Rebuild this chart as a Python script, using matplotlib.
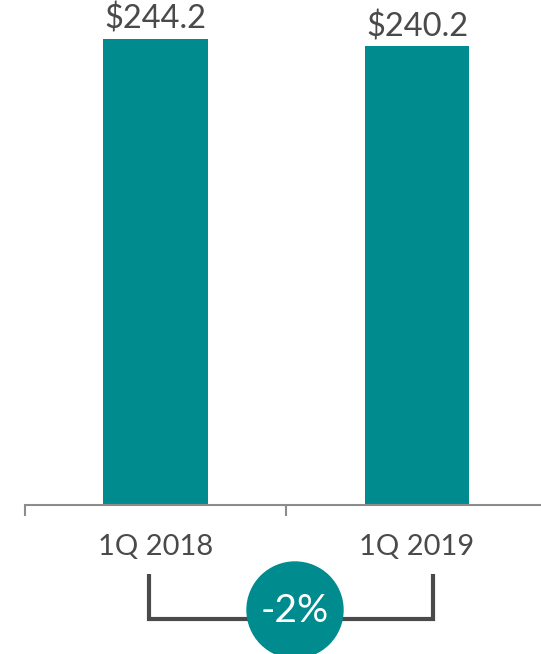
import matplotlib.pyplot as plt
from matplotlib.patches import Circle

categories = ["1Q 2018", "1Q 2019"]
values = [244.2, 240.2]

teal = "#008B8F"
dark = "#4A4A4A"
grey = "#8C8C8C"

plt.rcParams['font.family'] = ['Lato', 'DejaVu Sans']

fig = plt.figure(figsize=(5.41, 6.54), dpi=100)

# main axes: baseline at y=505px, left end at 25px, runs past the right edge
ax = fig.add_axes([24.75 / 541, (654 - 505) / 654, 523 / 541, 505 / 654])
x = list(range(len(categories)))
bars = ax.bar(x, values, width=0.4, color=teal)
ax.set_xlim(-0.5, 1.5)
ax.set_ylim(0, 505 / 1.91)

for b, v in zip(bars, values):
    ax.annotate(f"${v:.1f}", (b.get_x() + b.get_width() / 2, v),
                xytext=(0, 3), textcoords="offset points",
                ha="center", va="bottom", fontsize=23.5, color=dark)

for s in ["top", "right", "left"]:
    ax.spines[s].set_visible(False)
ax.spines["bottom"].set_color(grey)
ax.spines["bottom"].set_linewidth(1.5)
ax.set_yticks([])
ax.set_xticks(x)
ax.set_xticklabels(categories, fontsize=21, color=dark)
ax.tick_params(axis="x", length=0, pad=21)
ax.set_xticks([-0.5, 0.5, 1.5], minor=True)
ax.tick_params(axis="x", which="minor", length=8, width=1.5, color=grey)

# change bracket + bubble, drawn in pixel space
ov = fig.add_axes([0, 0, 1, 1])
ov.set_xlim(0, 541)
ov.set_ylim(654, 0)
ov.axis("off")
ov.plot([149, 149, 433, 433], [574, 619, 619, 574], color=dark, lw=3,
        solid_joinstyle="miter", solid_capstyle="butt")
ov.add_patch(Circle((295, 610), 48, color=teal, zorder=3))
pct = (values[1] - values[0]) / values[0] * 100
ov.text(295, 611, f"{pct:.0f}%", ha="center", va="center", fontsize=28,
        color="white", zorder=4)

fig.savefig("out.png", dpi=100)
